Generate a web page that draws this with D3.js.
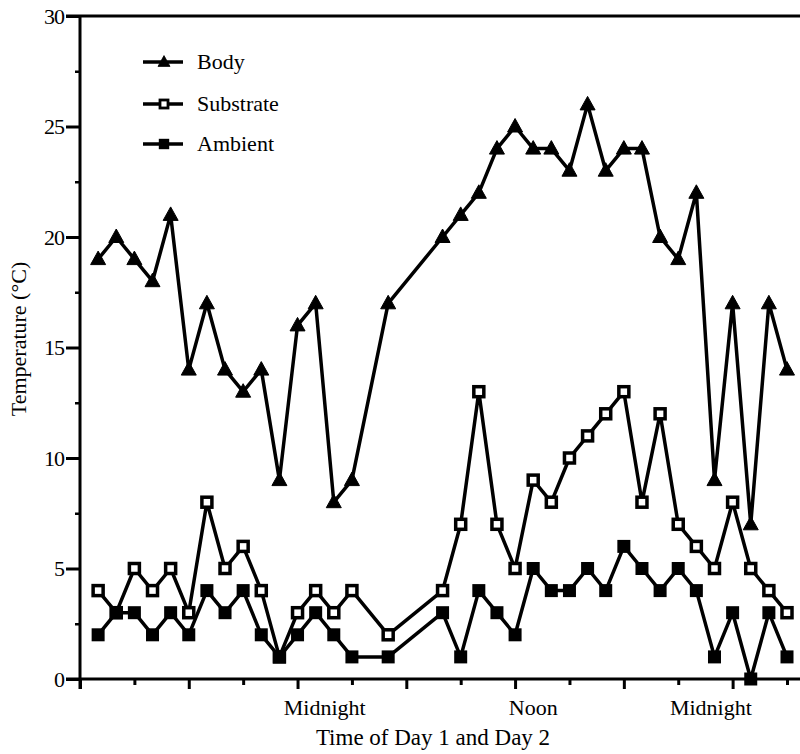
<!DOCTYPE html>
<html>
<head>
<meta charset="utf-8">
<script src="https://cdn.jsdelivr.net/npm/d3@7"></script>
<style>
  body { margin: 0; background: #fff; }
  svg { font-family: "Liberation Serif", "DejaVu Serif", serif; }
</style>
</head>
<body>
<svg id="chart" width="800" height="754"></svg>
<script>
// hours since noon of day 1 (hourly readings, some hours missing)
const hours = [1, 2, 3, 4, 5, 6, 7, 8, 9, 10, 11, 12, 13, 14, 15, 17,
    20, 21, 22, 23, 24, 25, 26, 27, 28, 29, 30, 31, 32, 33, 34, 35, 36, 37, 38, 39];
const body = [19, 20, 19, 18, 21, 14, 17, 14, 13, 14, 9, 16, 17, 8, 9, 17,
    20, 21, 22, 24, 25, 24, 24, 23, 26, 23, 24, 24, 20, 19, 22, 9, 17, 7, 17, 14];
const substrate = [4, 3, 5, 4, 5, 3, 8, 5, 6, 4, 1, 3, 4, 3, 4, 2,
    4, 7, 13, 7, 5, 9, 8, 10, 11, 12, 13, 8, 12, 7, 6, 5, 8, 5, 4, 3];
const ambient = [2, 3, 3, 2, 3, 2, 4, 3, 4, 2, 1, 2, 3, 2, 1, 1,
    3, 1, 4, 3, 2, 5, 4, 4, 5, 4, 6, 5, 4, 5, 4, 1, 3, 0, 3, 1];

const seriesNames = ['Body', 'Substrate', 'Ambient'];
const yTicks = [0, 5, 10, 15, 20, 25, 30];
const yMinorTicks = [2.5, 7.5, 12.5, 17.5, 22.5, 27.5];
const xMajorTicks = [0, 6, 12, 18, 24, 30, 36];
const xMinorTicks = [3, 9, 15, 21, 27, 33, 39];
// label positions (hours)
const xLabels = ['Midnight', 'Noon', 'Midnight'];
const xLabelPos = [13.5, 25, 34.8];

const svg = d3.select('#chart');
const x = d3.scaleLinear().domain([0, 39]).range([80, 787]);
const y = d3.scaleLinear().domain([0, 30]).range([679, 16]);
const fontSize = 22;

// frame: top line and bottom line run to the right edge
svg.append('line').attr('x1', 66).attr('x2', 800).attr('y1', y(30)).attr('y2', y(30))
    .attr('stroke', '#000').attr('stroke-width', 3);
svg.append('line').attr('x1', 66).attr('x2', 800).attr('y1', y(0)).attr('y2', y(0))
    .attr('stroke', '#000').attr('stroke-width', 3);
svg.append('line').attr('x1', x(0)).attr('x2', x(0)).attr('y1', y(30)).attr('y2', y(0) + 10)
    .attr('stroke', '#000').attr('stroke-width', 3);

// y axis
const yAxis = svg.append('g').attr('transform', `translate(${x(0)},0)`)
    .call(d3.axisLeft(y).tickValues(yTicks).tickSize(14).tickPadding(2).tickFormat(d3.format('d')));
yAxis.select('.domain').remove();
yAxis.selectAll('line').attr('stroke-width', 3);
yAxis.selectAll('text').attr('font-size', fontSize).attr('font-family', 'Liberation Serif')
    .attr('fill', '#000').attr('letter-spacing', -1);
const yMinor = svg.append('g').attr('transform', `translate(${x(0)},0)`)
    .call(d3.axisLeft(y).tickValues(yMinorTicks).tickSize(5).tickFormat(''));
yMinor.select('.domain').remove();
yMinor.selectAll('line').attr('stroke-width', 2.5);

// x axis
const xAxis = svg.append('g').attr('transform', `translate(0,${y(0)})`)
    .call(d3.axisBottom(x).tickValues(xMajorTicks).tickSize(10).tickFormat(''));
xAxis.select('.domain').remove();
xAxis.selectAll('line').attr('stroke-width', 3);
const xMinor = svg.append('g').attr('transform', `translate(0,${y(0)})`)
    .call(d3.axisBottom(x).tickValues(xMinorTicks).tickSize(6).tickFormat(''));
xMinor.select('.domain').remove();
xMinor.selectAll('line').attr('stroke-width', 3);

svg.append('g').selectAll('text').data(xLabels).join('text')
    .attr('x', (d, i) => x(xLabelPos[i])).attr('y', 715)
    .attr('text-anchor', 'middle').attr('font-size', fontSize).text(d => d);

svg.append('text').attr('x', 433).attr('y', 745).attr('text-anchor', 'middle')
    .attr('font-size', 23).text('Time of Day 1 and Day 2');
svg.append('text').attr('transform', `translate(26,${339}) rotate(-90)`)
    .attr('text-anchor', 'middle').attr('font-size', fontSize).text('Temperature (°C)');

// markers
const triPath = 'M0,-8L7.5,5.5L-7.5,5.5Z';
function drawMarker(g, type) {
    if (type === 'Body') {
        g.append('path').attr('d', triPath).attr('fill', '#000')
            .attr('stroke', '#000').attr('stroke-width', 1).attr('stroke-linejoin', 'round');
    } else if (type === 'Substrate') {
        g.append('rect').attr('x', -5).attr('y', -5).attr('width', 10).attr('height', 10)
            .attr('fill', '#fff').attr('stroke', '#000').attr('stroke-width', 3.5);
    } else {
        g.append('rect').attr('x', -6.5).attr('y', -6.5).attr('width', 13).attr('height', 13)
            .attr('fill', '#000');
    }
}

const allSeries = [body, substrate, ambient];
const line = d3.line().x(d => x(d[0])).y(d => y(d[1]));

allSeries.forEach((vals, si) => {
    const pts = hours.map((h, i) => [h, vals[i]]);
    const g = svg.append('g');
    g.append('path').attr('d', line(pts)).attr('fill', 'none')
        .attr('stroke', '#000').attr('stroke-width', 3.5).attr('stroke-linejoin', 'round');
    g.selectAll('.m').data(pts).join('g').attr('class', 'm')
        .attr('transform', d => `translate(${x(d[0])},${y(d[1])})`)
        .each(function () { drawMarker(d3.select(this), seriesNames[si]); });
});

// legend
const legendY = [62, 104, 144];
const legend = svg.append('g');
seriesNames.forEach((name, i) => {
    const lg = legend.append('g').attr('transform', `translate(164,${legendY[i]})`);
    lg.append('line').attr('x1', -21).attr('x2', 19).attr('stroke', '#000').attr('stroke-width', 3.5);
    drawMarker(lg.append('g').attr('transform', 'scale(0.8)'), name);
    lg.append('text').attr('x', 33).attr('y', 7).attr('font-size', fontSize).text(name);
});
</script>
</body>
</html>
